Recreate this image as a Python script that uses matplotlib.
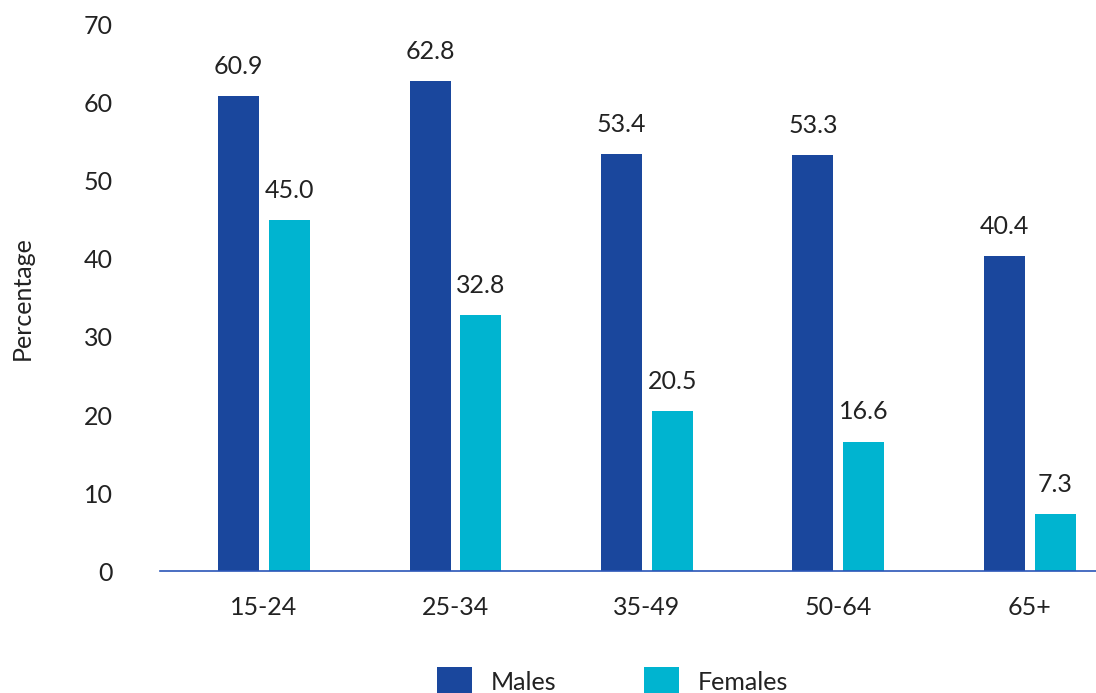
import matplotlib
matplotlib.use('Agg')
import matplotlib.pyplot as plt
import numpy as np

plt.rcParams['font.family'] = ['Lato', 'DejaVu Sans']

age_groups = ['15-24', '25-34', '35-49', '50-64', '65+']
males = [60.9, 62.8, 53.4, 53.3, 40.4]
females = [45.0, 32.8, 20.5, 16.6, 7.3]

male_color = '#1A479D'
female_color = '#00B4D0'
text_color = '#222222'
fs = 18

fig = plt.figure(figsize=(10.96, 6.93), dpi=100)
ax = fig.add_axes([0.146, 0.176, 0.854, 0.788])

x = np.arange(len(age_groups))
w = 0.214
off = 0.133
b1 = ax.bar(x - off, males, w, color=male_color, label='Males')
b2 = ax.bar(x + off, females, w, color=female_color, label='Females')

for bars, vals in [(b1, males), (b2, females)]:
    for b, v in zip(bars, vals):
        ax.annotate(f'{v:.1f}', (b.get_x() + b.get_width() / 2, v),
                    xytext=(0, 13), textcoords='offset points',
                    ha='center', va='bottom', fontsize=fs, color=text_color)

ax.set_xlim(-0.543, 4.345)
ax.set_ylim(0, 70)
ax.set_yticks(range(0, 71, 10))
ax.set_xticks(x)
ax.set_xticklabels(age_groups)
ax.tick_params(axis='y', length=0, pad=34, labelsize=fs, labelcolor=text_color)
ax.tick_params(axis='x', length=0, pad=18, labelsize=fs, labelcolor=text_color)
for s in ['top', 'right', 'left']:
    ax.spines[s].set_visible(False)
ax.spines['bottom'].set_color('#2A55B8')
ax.spines['bottom'].set_linewidth(1.2)
ax.set_ylabel('Percentage', fontsize=fs, color=text_color)
ax.yaxis.set_label_coords(-0.135, 0.5)

fig.legend(loc='center', bbox_to_anchor=(0.559, 0.017), ncol=2, frameon=False,
           fontsize=fs, handlelength=1.4, handleheight=1.4,
           handletextpad=0.75, columnspacing=3.5, labelcolor=text_color)

fig.savefig('out.png', dpi=100)
